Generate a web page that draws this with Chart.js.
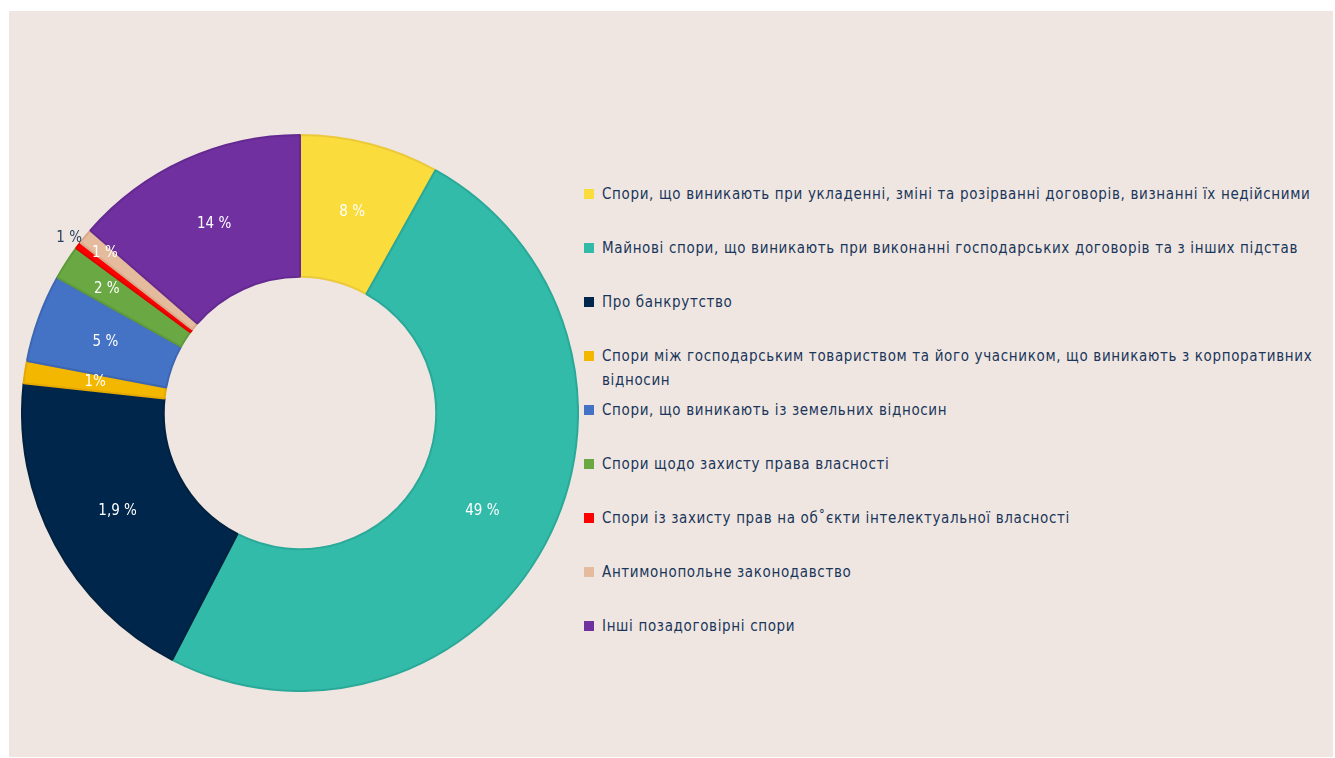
<!DOCTYPE html>
<html lang="uk">
<head>
<meta charset="utf-8">
<script src="https://cdn.jsdelivr.net/npm/chart.js@4/dist/chart.umd.min.js"></script>
<style>
    html, body { margin: 0; padding: 0; background: #fff; }
    body { width: 1335px; height: 758px; position: relative; overflow: hidden; }
    .panel { position: absolute; left: 9px; top: 11px; width: 1324px; height: 746px; background: #efe6e1; }
    .chart-box { position: absolute; left: 21px; top: 134px; width: 558px; height: 558px; }
    .legend { position: absolute; left: 584px; top: 182px; width: 745px; margin: 0; padding: 0; list-style: none;
        font-family: "DejaVu Sans Condensed", "DejaVu Sans", sans-serif; font-size: 15px; letter-spacing: 0.65px;
        color: #1a365b; }
    .legend li { position: relative; padding-left: 18px; height: 54px; line-height: 24px; }
    .legend span.sw { position: absolute; left: 0; top: 7px; width: 10px; height: 10px; }
</style>
</head>
<body>
<div class="panel"></div>
<div class="chart-box"><canvas id="chart"></canvas></div>
<ul class="legend" id="legend"></ul>
<script>
const categories = [
    'Спори, що виникають при укладенні, зміні та розірванні договорів, визнанні їх недійсними',
    'Майнові спори, що виникають при виконанні господарських договорів та з інших підстав',
    'Про банкрутство',
    'Спори між господарським товариством та його учасником, що виникають з корпоративних відносин',
    'Спори, що виникають із земельних відносин',
    'Спори щодо захисту права власності',
    'Спори із захисту прав на об˚єкти інтелектуальної власності',
    'Антимонопольне законодавство',
    'Інші позадоговірні спори',
];
const shares = [8.1, 49.5, 19.1, 1.3, 5.1, 2.0, 0.4, 0.9, 13.6];
const valueLabels = ['8 %', '49 %', '1,9 %', '1%', '5 %', '2 %', '1 %', '1 %', '14 %'];

const colors = ['#fbdc3d', '#33bbaa', '#01264c', '#f4b700', '#4472c4', '#6aa843', '#ff0000', '#e5bb9d', '#7030a0'];
const borders = ['#ebc93a', '#2aa898', '#01213f', '#e3a900', '#3d66b2', '#5f9a3b', '#e00000', '#d9ab8c', '#652a91'];

// label placement: fraction of ring thickness (0 = inner edge, 1 = outer edge), >1 is outside
const labelPos = [0.5, 0.5, 0.5, 0.5, 0.5, 0.66, 1.08, 0.82, 0.5];
const labelColor = ['#fff', '#fff', '#fff', '#fff', '#fff', '#fff', '#2b4262', '#fff', '#fff'];

const legend = document.getElementById('legend');
categories.forEach((name, i) => {
    const li = document.createElement('li');
    li.innerHTML = `<span class="sw" style="background:${colors[i]}"></span>${name}`;
    legend.appendChild(li);
});

const sliceLabels = {
    id: 'sliceLabels',
    afterDatasetsDraw(chart) {
        const ctx = chart.ctx;
        const meta = chart.getDatasetMeta(0);
        ctx.save();
        ctx.font = '15px "DejaVu Sans Condensed", "DejaVu Sans", sans-serif';
        ctx.textAlign = 'center';
        ctx.textBaseline = 'middle';
        meta.data.forEach((arc, i) => {
            const { x, y, startAngle, endAngle, innerRadius, outerRadius } = arc.getProps(
                ['x', 'y', 'startAngle', 'endAngle', 'innerRadius', 'outerRadius'], true);
            const mid = (startAngle + endAngle) / 2;
            const r = innerRadius + (outerRadius - innerRadius) * labelPos[i];
            ctx.fillStyle = labelColor[i];
            ctx.fillText(valueLabels[i], x + Math.cos(mid) * r, y + Math.sin(mid) * r);
        });
        ctx.restore();
    },
};

new Chart(document.getElementById('chart'), {
    type: 'doughnut',
    data: {
        labels: categories,
        datasets: [{
            data: shares,
            backgroundColor: colors,
            borderColor: borders,
            borderWidth: 2,
        }],
    },
    options: {
        responsive: true,
        maintainAspectRatio: false,
        animation: false,
        cutout: '49%',
        layout: { padding: 0 },
        plugins: {
            legend: { display: false },
            tooltip: { enabled: false },
        },
    },
    plugins: [sliceLabels],
});
</script>
</body>
</html>
